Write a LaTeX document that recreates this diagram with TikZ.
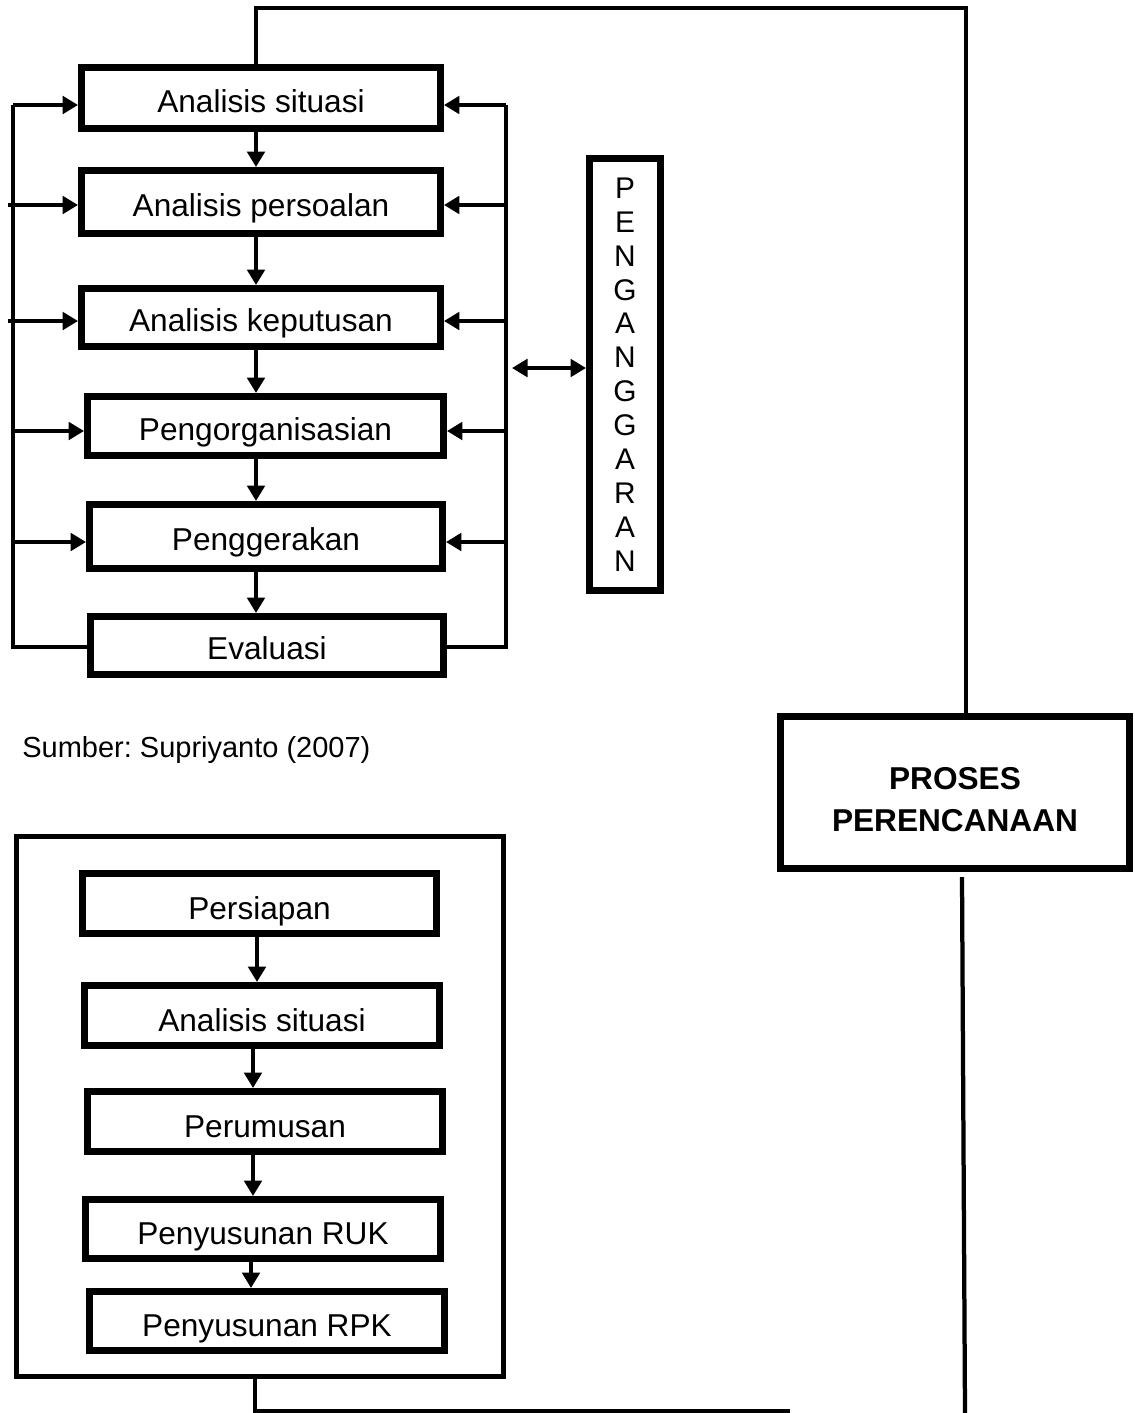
\documentclass[tikz,border=0pt]{standalone}
\usepackage{fontspec}
\setmainfont{Liberation Sans}
\usetikzlibrary{arrows.meta,calc}
\frenchspacing
\begin{document}
\begin{tikzpicture}[x=0.02cm,y=-0.02cm,
  boxa/.style={draw, line width=0.14cm, inner sep=0pt, fill=white, font=\fontsize{18}{21.6}\selectfont, text height=16.3pt, text depth=0pt},
  bx/.style 2 args={boxa, minimum width=#1, minimum height=#2},
  lowtext/.style={text height=18pt},
  conn/.style={line width=0.085cm},
  arr/.style={conn, -{Triangle[length=0.31cm,width=0.35cm]}},
  dblarr/.style={conn, {Triangle[length=0.31cm,width=0.35cm]}-{Triangle[length=0.31cm,width=0.35cm]}},
]
\useasboundingbox (0,0) rectangle (1134,1413);

% ---------- top flow ----------
\node[bx={7.18cm}{1.22cm}] (b1) at (261,98) {Analisis situasi};
\node[bx={7.18cm}{1.26cm}] (b2) at (261,202) {Analisis persoalan};
\node[bx={7.18cm}{1.16cm}] (b3) at (261,317.5) {Analisis keputusan};
\node[bx={7.12cm}{1.18cm}] (b4) at (265.5,426) {Pengorganisasian};
\node[bx={7.06cm}{1.28cm}] (b5) at (266,536.5) {Penggerakan};
\node[bx={7.06cm}{1.16cm}] (b6) at (267,645.5) {Evaluasi};

\coordinate (dx) at (256,0);
\draw[arr] (b1.south -| dx) -- (b2.north -| dx);
\draw[arr] (b2.south -| dx) -- (b3.north -| dx);
\draw[arr] (b3.south -| dx) -- (b4.north -| dx);
\draw[arr] (b4.south -| dx) -- (b5.north -| dx);
\draw[arr] (b5.south -| dx) -- (b6.north -| dx);

% left feedback
\coordinate (L1) at (13,105);
\coordinate (L2) at (8,205);
\coordinate (L3) at (8,321);
\coordinate (L4) at (13,431);
\coordinate (L5) at (13,542);
\coordinate (Lb) at (13,647);
\draw[conn] (b6.west |- Lb) -- (Lb) -- (L1);
\draw[arr] (L1) -- (L1 -| b1.west);
\draw[arr] (L2) -- (L2 -| b2.west);
\draw[arr] (L3) -- (L3 -| b3.west);
\draw[arr] (L4) -- (L4 -| b4.west);
\draw[arr] (L5) -- (L5 -| b5.west);

% right feedback
\coordinate (R1) at (506,105);
\coordinate (R2) at (506,205);
\coordinate (R3) at (506,321);
\coordinate (R4) at (506,431);
\coordinate (R5) at (506,542);
\coordinate (Rb) at (506,647);
\draw[conn] (b6.east |- Rb) -- (Rb) -- (R1);
\draw[arr] (R1) -- (R1 -| b1.east);
\draw[arr] (R2) -- (R2 -| b2.east);
\draw[arr] (R3) -- (R3 -| b3.east);
\draw[arr] (R4) -- (R4 -| b4.east);
\draw[arr] (R5) -- (R5 -| b5.east);

% penganggaran
\node[draw, line width=0.14cm, inner sep=0pt, minimum width=1.42cm, minimum height=8.64cm,
  align=center, font=\fontsize{17}{19.3}\selectfont] (pg) at (625,374.5)
  {P\\E\\N\\G\\A\\N\\G\\G\\A\\R\\A\\N};
\coordinate (D) at (512,368);
\draw[dblarr] (D) -- (D -| pg.west);

% source
\node[anchor=west, inner sep=0pt, font=\fontsize{16.5}{20}\selectfont] (src) at (22,750) {Sumber: Supriyanto (2007)};

% ---------- proses perencanaan ----------
\node[draw, line width=0.14cm, inner sep=0pt, minimum width=6.98cm, minimum height=3.04cm] (proses) at (955,792.5) {};
\node[align=center, inner sep=0pt, font=\bfseries\fontsize{18}{23.8}\selectfont] (prosestxt) at (955,800)
  {PROSES\\PERENCANAAN};

\coordinate (T) at (256,8);
\coordinate (T2) at (966,8);
\draw[conn] (b1.north -| T) -- (T) -- (T2) -- (proses.north -| T2);

\coordinate (PB) at (962,877);
\coordinate (PE) at (965,1413);
\draw[conn] (PB) -- (PE);

% ---------- bottom flow ----------
\node[draw, line width=0.1cm, minimum width=9.74cm, minimum height=10.8cm, inner sep=0pt] (outer) at (260,1106.5) {};

\node[bx={7.08cm}{1.20cm}, lowtext] (p1) at (259.5,903.5) {Persiapan};
\node[bx={7.10cm}{1.20cm}, lowtext] (p2) at (262,1015.5) {Analisis situasi};
\node[bx={7.10cm}{1.20cm}, lowtext] (p3) at (265,1121.5) {Perumusan};
\node[bx={7.10cm}{1.18cm}, lowtext] (p4) at (263,1229) {Penyusunan RUK};
\node[bx={7.10cm}{1.18cm}, lowtext] (p5) at (267,1321) {Penyusunan RPK};

\coordinate (c1) at (257,0);
\coordinate (c2) at (253,0);
\coordinate (c4) at (251,0);
\draw[arr] (p1.south -| c1) -- (p2.north -| c1);
\draw[arr] (p2.south -| c2) -- (p3.north -| c2);
\draw[arr] (p3.south -| c2) -- (p4.north -| c2);
\draw[arr] (p4.south -| c4) -- (p5.north -| c4);

\coordinate (BC) at (255,1411);
\coordinate (BE) at (790,1411);
\draw[conn] (outer.south -| BC) -- (BC) -- (BE);
\end{tikzpicture}
\end{document}
